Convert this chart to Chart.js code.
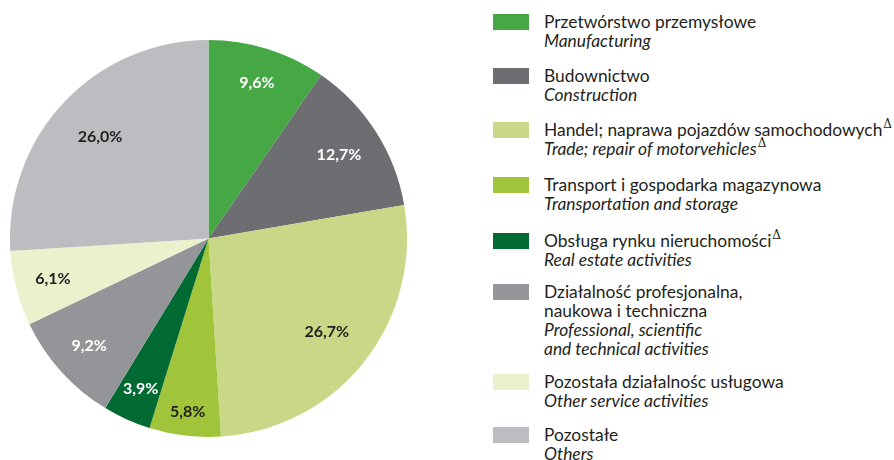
<!DOCTYPE html>
<html>
<head>
<meta charset="utf-8">
<script src="https://cdn.jsdelivr.net/npm/chart.js@4/dist/chart.umd.min.js"></script>
<style>
  html, body { margin: 0; padding: 0; background: #fff; }
  #wrap { position: relative; width: 894px; height: 460px; overflow: hidden; }
  #pieBox { position: absolute; left: 0; top: 0; width: 417px; height: 460px; }
  #legend { position: absolute; left: 493px; top: 0; font-family: Lato, 'Open Sans', sans-serif; color: #231f20; }
  .item { position: absolute; left: 0; white-space: nowrap; }
  .sw { position: absolute; left: 0; top: 0; width: 36px; height: 16px; }
  .txt { position: absolute; left: 51px; top: -2px; font-size: 17.4px; line-height: 19px; }
  .txt i { display: block; }
  .txt span { display: block; }
  sup { font-family: 'DejaVu Serif', serif; font-style: normal; font-size: 12px; line-height: 0; vertical-align: 8px; margin-left: 1px; }
</style>
</head>
<body>
<div id="wrap">
  <div id="pieBox"><canvas id="pieChart"></canvas></div>
  <div id="legend"></div>
</div>
<script>
// dane
const labelsPl = [
  ['Przetwórstwo przemysłowe'],
  ['Budownictwo'],
  ['Handel; naprawa pojazdów samochodowych'],
  ['Transport i gospodarka magazynowa'],
  ['Obsługa rynku nieruchomości'],
  ['Działalność profesjonalna,', 'naukowa i techniczna'],
  ['Pozostała działalnośc usługowa'],
  ['Pozostałe']
];
const labelsEn = [
  ['Manufacturing'],
  ['Construction'],
  ['Trade; repair of motorvehicles'],
  ['Transportation and storage'],
  ['Real estate activities'],
  ['Professional, scientific', 'and technical activities'],
  ['Other service activities'],
  ['Others']
];
const deltaPl = [false, false, true, false, true, false, false, false];
const deltaEn = [false, false, true, false, false, false, false, false];
const shares = [9.6, 12.7, 26.7, 5.8, 3.9, 9.2, 6.1, 26.0];

const colors = ['#46a844', '#6d6e71', '#c8d886', '#a0c43a', '#006a32', '#939598', '#eaf1cc', '#bcbdc0'];
const labelColors = ['#ffffff', '#ffffff', '#231f20', '#231f20', '#ffffff', '#ffffff', '#231f20', '#231f20'];
const labelRadius = [0.82, 0.78, 0.76, 0.88, 0.83, 0.81, 0.81, 0.75];
const legendTops = [14, 68, 122, 177, 233, 284, 374, 427];

// etykiety procentowe na wycinkach
const sliceLabels = {
  id: 'sliceLabels',
  afterDatasetsDraw(chart) {
    const ctx = chart.ctx;
    const meta = chart.getDatasetMeta(0);
    ctx.save();
    ctx.font = 'bold 16px Lato, "Open Sans", sans-serif';
    ctx.textAlign = 'center';
    ctx.textBaseline = 'middle';
    meta.data.forEach((arc, i) => {
      const mid = (arc.startAngle + arc.endAngle) / 2;
      const r = arc.outerRadius * labelRadius[i];
      const x = arc.x + Math.cos(mid) * r;
      const y = arc.y + Math.sin(mid) * r;
      ctx.fillStyle = labelColors[i];
      ctx.fillText(shares[i].toFixed(1).replace('.', ',') + '%', x, y);
    });
    ctx.restore();
  }
};

new Chart(document.getElementById('pieChart').getContext('2d'), {
  type: 'pie',
  data: {
    labels: labelsPl.map(l => l.join(' ')),
    datasets: [{
      data: shares,
      backgroundColor: colors,
      borderWidth: 0
    }]
  },
  options: {
    responsive: true,
    maintainAspectRatio: false,
    animation: false,
    layout: { padding: { left: 10, right: 10, top: 40, bottom: 23 } },
    plugins: { legend: { display: false }, tooltip: { enabled: false } }
  },
  plugins: [sliceLabels]
});

// legenda
const legend = document.getElementById('legend');
labelsPl.forEach((pl, i) => {
  const item = document.createElement('div');
  item.className = 'item';
  item.style.top = legendTops[i] + 'px';
  let html = `<div class="sw" style="background:${colors[i]}"></div><div class="txt">`;
  pl.forEach((line, k) => {
    const d = (deltaPl[i] && k === pl.length - 1) ? '<sup>Δ</sup>' : '';
    html += `<span>${line}${d}</span>`;
  });
  labelsEn[i].forEach((line, k) => {
    const d = (deltaEn[i] && k === labelsEn[i].length - 1) ? '<sup>Δ</sup>' : '';
    html += `<i>${line}${d}</i>`;
  });
  html += '</div>';
  item.innerHTML = html;
  legend.appendChild(item);
});
</script>
</body>
</html>
